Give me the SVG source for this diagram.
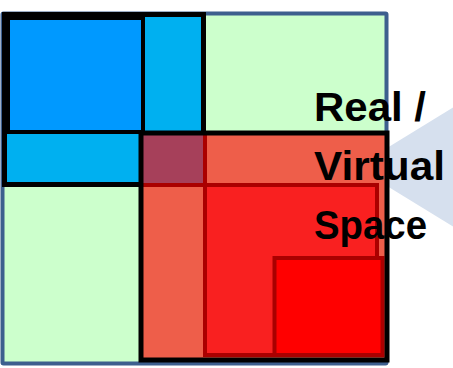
<svg xmlns="http://www.w3.org/2000/svg" width="453" height="368" viewBox="0 0 453 368">
<style>
.lbl{font-family:"Liberation Sans",Arial,sans-serif;font-weight:bold;font-size:40px;fill:#000}
.dr{stroke:#aa0000;stroke-width:4}
</style>
<rect width="453" height="368" fill="#ffffff"/>
<g id="pointer"><polygon points="356,167 470,97 470,237" fill="#d6e0ee"/></g>
<g id="space"><rect x="2.5" y="13.5" width="384" height="350" fill="#ccffcc" stroke="#3d5f8e" stroke-width="4" rx="1"/></g>
<g id="blue-region">
<rect x="4" y="14" width="200" height="171" fill="#00b0f0"/>
<rect x="8" y="18" width="135" height="114" fill="#0099ff" stroke="#000" stroke-width="4"/>
<rect x="4.5" y="14.5" width="199" height="170" fill="none" stroke="#000" stroke-width="5"/>
</g>
<g id="red-region">
<rect x="141" y="133" width="246" height="227" fill="#ee5e4a"/>
<rect id="overlap" x="141" y="133" width="64" height="52" fill="#a6405a" class="dr"/>
<rect id="middle" x="205" y="185" width="172" height="170" fill="#f92020" class="dr"/>
<rect id="inner" x="274.5" y="258" width="108" height="97" fill="#ff0000" class="dr"/>
<rect x="141" y="133" width="246" height="227" fill="none" stroke="#000" stroke-width="5"/>
</g>
<g id="connectors"></g>
<g id="label">
<text class="lbl" x="314" y="121" textLength="112" lengthAdjust="spacingAndGlyphs">Real /</text>
<text class="lbl" x="314" y="180" textLength="131" lengthAdjust="spacingAndGlyphs">Virtual</text>
<text class="lbl" x="314" y="239" textLength="113" lengthAdjust="spacingAndGlyphs">Space</text>
</g>
</svg>
